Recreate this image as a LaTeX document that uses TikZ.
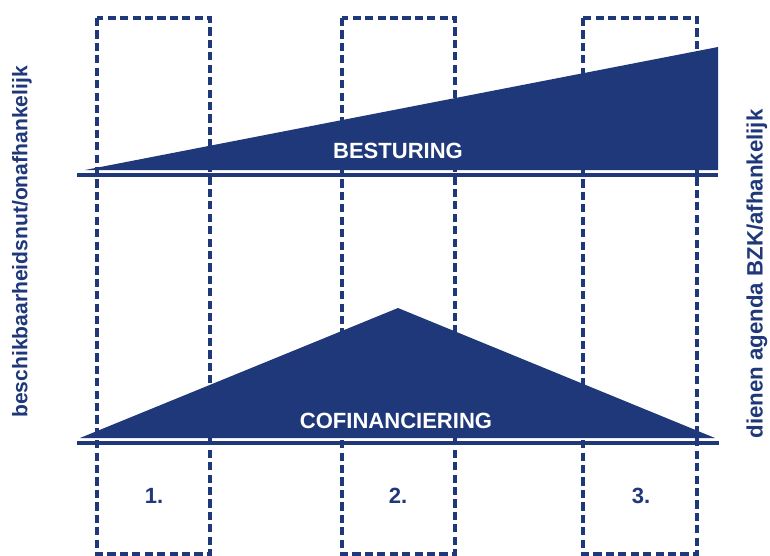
\documentclass[tikz,border=0pt]{standalone}
\usepackage{fontspec}
\setmainfont{Liberation Sans}
\definecolor{navy}{RGB}{31,56,122}

\begin{document}
\begin{tikzpicture}[x=0.03cm,y=-0.03cm,
  kolom/.style={draw=navy,line width=2.9pt,dash pattern=on 7pt off 3.6pt},
  basis/.style={draw=navy,line width=2.8pt},
  balk/.style={fill=navy},
  label/.style={font=\bfseries\fontsize{18.8}{20}\selectfont,inner sep=0pt},
  zijlabel/.style={font=\bfseries\fontsize{18}{20}\selectfont,inner sep=0pt,text=navy,rotate=90}]

  \useasboundingbox (0,0) rectangle (770,556);

  % de drie kolommen
  \foreach \xa/\xb in {97/210, 342/455, 583/697} {\draw[kolom] (\xa,18) rectangle (\xb,554);};

  % besturing
  \fill[balk] (85,170) -- (718,47) -- (718,170) -- cycle;
  \draw[basis] (77,175) -- (718,175);
  \node[label,text=white] (besturing) at (398,151) {BESTURING};

  % cofinanciering
  \fill[balk] (80,438) -- (398,308) -- (715,438) -- cycle;
  \draw[basis] (77,443) -- (719,443);
  \node[label,text=white] (cofin) at (396,421) {COFINANCIERING};

  \node[label,text=navy] (een) at (154,496) {1.};
  \node[label,text=navy] (twee) at (398,496) {2.};
  \node[label,text=navy] (drie) at (641,496) {3.};

  \node[zijlabel] (links) at (22,242) {beschikbaarheidsnut/onafhankelijk};
  \node[zijlabel,font=\bfseries\fontsize{19}{21}\selectfont] (rechts) at (757,274) {dienen agenda BZK/afhankelijk};
\end{tikzpicture}
\end{document}
